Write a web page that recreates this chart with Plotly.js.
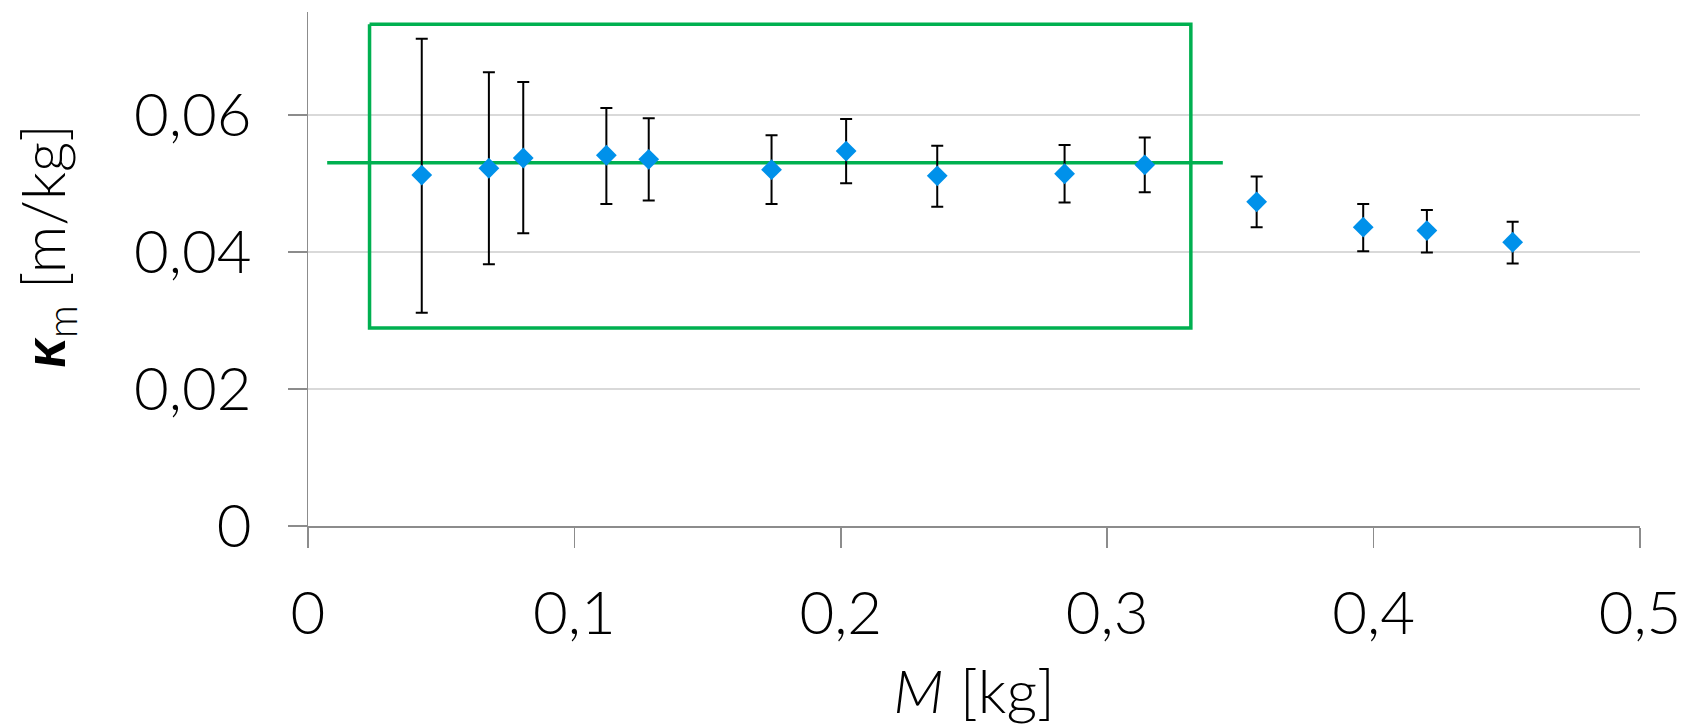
<!DOCTYPE html>
<html><head><meta charset="utf-8">
<script src="https://cdn.plot.ly/plotly-3.0.1.min.js"></script>
<style>html,body{margin:0;padding:0;background:#fff}#chart{width:1683px;height:726px}</style>
</head><body><div id="chart"></div>
<script>
// Data
const massKg   = [0.0427, 0.0679, 0.0808, 0.1120, 0.1279, 0.1740, 0.2020, 0.2362, 0.2840, 0.3141, 0.3561, 0.3961, 0.4200, 0.4522];
const kappa    = [0.0512, 0.0522, 0.0537, 0.0541, 0.0535, 0.0520, 0.0547, 0.0511, 0.0514, 0.0527, 0.0473, 0.0436, 0.0431, 0.0414];
const errUpper = [0.0711, 0.0662, 0.0648, 0.0610, 0.0595, 0.0570, 0.0594, 0.0555, 0.0556, 0.0567, 0.0510, 0.0470, 0.0461, 0.0444];
const errLower = [0.0311, 0.0382, 0.0427, 0.0470, 0.0475, 0.0470, 0.0500, 0.0466, 0.0472, 0.0487, 0.0436, 0.0401, 0.0399, 0.0383];
// Mean level and highlighted region
const meanKappa = 0.0530;
const meanRange = [0.0072, 0.3434];
const boxX = [0.0231, 0.3314];
const boxY = [0.0289, 0.0732];

const errPlus  = kappa.map((v, i) => errUpper[i] - v);
const errMinus = kappa.map((v, i) => v - errLower[i]);

const green = '#00B050';
const font = {family: 'Lato, "Open Sans", sans-serif', size: 60, color: '#000', weight: 300};

const traces = [
  {
    type: 'scatter', mode: 'lines',
    x: [boxX[0], boxX[1], boxX[1], boxX[0], boxX[0]],
    y: [boxY[1], boxY[1], boxY[0], boxY[0], boxY[1]],
    line: {color: green, width: 3.5}, hoverinfo: 'skip'
  },
  {
    type: 'scatter', mode: 'lines',
    x: meanRange, y: [meanKappa, meanKappa],
    line: {color: green, width: 3.5}, hoverinfo: 'skip'
  },
  {
    type: 'scatter', mode: 'markers',
    x: massKg, y: kappa,
    marker: {symbol: 'diamond', size: 16, color: '#0091EA'},
    error_y: {type: 'data', symmetric: false, array: errPlus, arrayminus: errMinus,
              color: '#000', thickness: 2, width: 6}
  }
];

const layout = {
  width: 1683, height: 726,
  margin: {l: 308, r: 43, t: 12, b: 200},
  paper_bgcolor: '#fff', plot_bgcolor: '#fff',
  showlegend: false, hovermode: false,
  separators: ', ',
  font: font,
  xaxis: {
    range: [0, 0.5], tick0: 0, dtick: 0.1,
    showgrid: false, zeroline: false,
    showline: true, linecolor: '#8c8c8c', linewidth: 1.5,
    ticks: 'outside', ticklen: 20, tickwidth: 1.5, tickcolor: '#8c8c8c',
    tickfont: font, ticklabelstandoff: 14,
    title: {text: '<i>M</i> [kg]', font: font, standoff: 27}
  },
  yaxis: {
    range: [0, 0.075], tick0: 0, dtick: 0.02,
    showgrid: true, gridcolor: '#d9d9d9', gridwidth: 1.5,
    zeroline: false,
    showline: true, linecolor: '#8c8c8c', linewidth: 1.5,
    ticks: 'outside', ticklen: 19, tickwidth: 1.5, tickcolor: '#8c8c8c',
    tickfont: font, ticklabelstandoff: 24
  },
  annotations: [{
    text: '<b><i>κ</i></b><sub>m</sub> [m/kg]',
    xref: 'paper', yref: 'paper', x: -0.196, y: 0.545,
    xanchor: 'center', yanchor: 'middle', textangle: -90, showarrow: false,
    font: {family: font.family, size: 59, color: '#000', weight: 300}
  }]
};

Plotly.newPlot('chart', traces, layout, {displayModeBar: false, staticPlot: true});
</script>
</body></html>
